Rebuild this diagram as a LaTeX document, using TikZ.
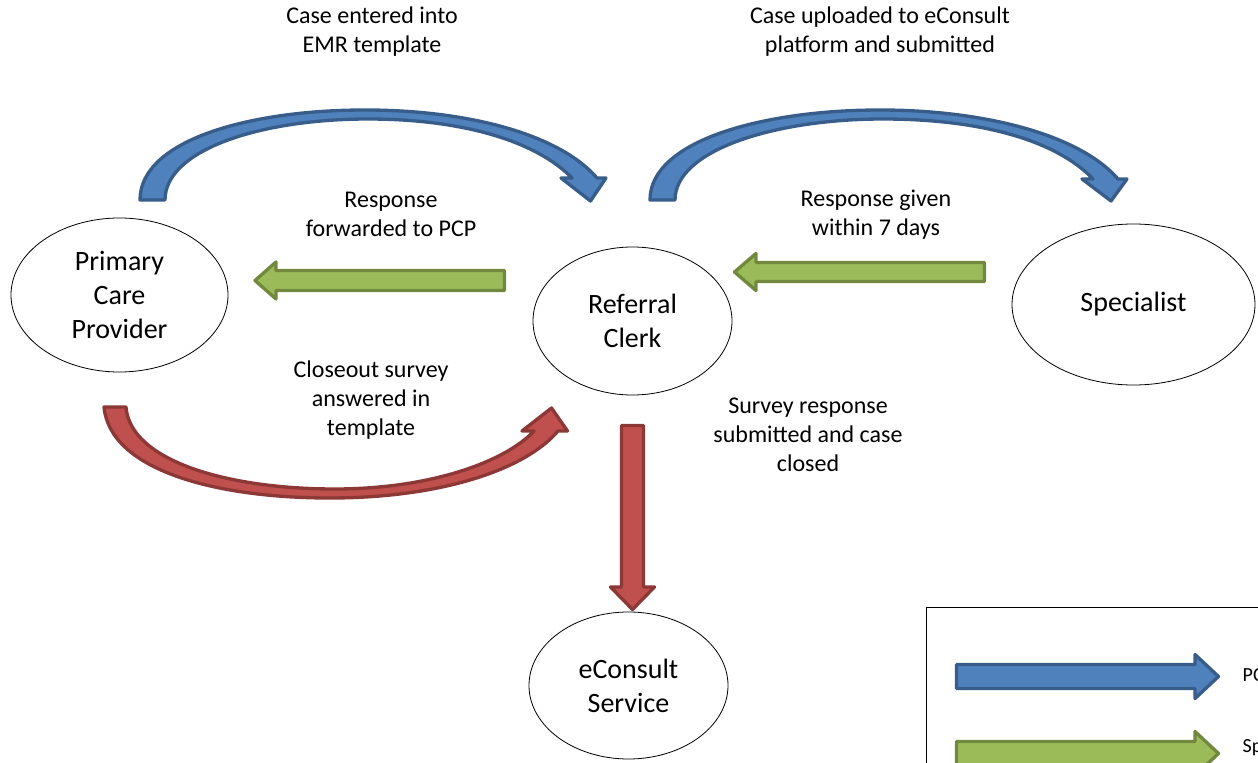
\documentclass[tikz,border=0pt]{standalone}
\usepackage{fontspec}
\setmainfont{Carlito}
\usetikzlibrary{shapes.geometric}
\definecolor{bluefill}{RGB}{79,129,189}
\definecolor{blueline}{RGB}{56,93,138}
\definecolor{greenfill}{RGB}{155,187,89}
\definecolor{greenline}{RGB}{113,137,63}
\definecolor{redfill}{RGB}{192,80,77}
\definecolor{redline}{RGB}{140,56,54}
\tikzstyle{actor} =[ellipse, draw=black, line width=0.6pt, inner sep=0pt, align=center, font=\fontsize{21}{25.5}\selectfont]
\tikzstyle{note} =[align=center, font=\fontsize{18}{21.75}\selectfont]
\tikzstyle{key} =[anchor=west, font=\fontsize{15}{18}\selectfont]
\tikzstyle{bluearrow} =[draw=blueline, fill=bluefill, line width=2.5pt, line join=round]
\tikzstyle{greenarrow} =[draw=greenline, fill=greenfill, line width=2.5pt, line join=round]
\tikzstyle{redarrow} =[draw=redline, fill=redfill, line width=2.5pt, line join=round]

\begin{document}
\begin{tikzpicture}[x=0.75pt, y=-0.75pt]
\useasboundingbox (0,0) rectangle (1258,763);
\node (pcp) [actor, minimum width=162.75pt, minimum height=115.5pt] at (119.5,295) {Primary\\Care\\Provider};
\node (clerk) [actor, minimum width=149.25pt, minimum height=111pt] at (632.5,321) {Referral\\Clerk};
\node (spec) [actor, minimum width=182.25pt, minimum height=120.75pt] at (1133.5,304.5) {Specialist};
\node (service) [actor, minimum width=149.25pt, minimum height=110.25pt] at (628.5,685.5) {eConsult\\Service};
\node (entered) [note] at (372,31.5) {Case entered into\\EMR template};
\node (uploaded) [note] at (880,31.5) {Case uploaded to eConsult\\platform and submitted};
\node (forwarded) [note] at (391,214.5) {Response\\forwarded to PCP};
\node (given) [note] at (876,214.5) {Response given\\within 7 days};
\node (closeout) [note] at (371,400) {Closeout survey\\answered in\\template};
\node (closed) [note] at (808,435) {Survey response\\submitted and case\\closed};
% curved block arrows
\draw [bluearrow] (140,200) .. controls (140,140) and (250,110) .. (365,110) .. controls (470,110) and (560,135) .. (597,178)
  -- (606,178) -- (590.5,201) -- (561,178) -- (572,178)
  .. controls (535,140) and (460,119) .. (368,119) .. controls (260,119) and (165,150) .. (165,200) -- cycle;
\draw [bluearrow] (650,200) .. controls (650,140) and (765,110) .. (880,110) .. controls (985,110) and (1080,135) .. (1118,179)
  -- (1127,179) -- (1111,201) -- (1082,179) -- (1093,179)
  .. controls (1056,140) and (980,119) .. (883,119) .. controls (775,119) and (675,150) .. (675,200) -- cycle;
\draw [redarrow] (104,407) .. controls (110,470) and (215,498) .. (330,498) .. controls (440,498) and (525,470) .. (558,431)
  -- (567.5,431) -- (551.5,408) -- (522,431) -- (534,431)
  .. controls (505,462) and (430,489) .. (335,489) .. controls (225,489) and (130,460) .. (126,407) -- cycle;
% straight block arrows
\draw [greenarrow] (504.5,270.5) -- (276,270.5) -- (276,262) -- (255,280.5) -- (276,299) -- (276,290.5) -- (504.5,290.5) -- cycle;
\draw [greenarrow] (984.5,262.5) -- (756,262.5) -- (756,253.5) -- (734.5,272) -- (756,290.5) -- (756,281.5) -- (984.5,281.5) -- cycle;
\draw [redarrow] (621.5,425.5) -- (643.5,425.5) -- (643.5,587) -- (654.5,587) -- (632.5,609.5) -- (610.5,587) -- (621.5,587) -- cycle;
% legend
\draw [line width=0.75pt] (926,607) rectangle (1300,800);
\draw [bluearrow] (956.5,664.5) -- (1195,664.5) -- (1195,654.5) -- (1218.5,676.5) -- (1195,698.5) -- (1195,688.5) -- (956.5,688.5) -- cycle;
\draw [greenarrow] (956.5,741.5) -- (1195,741.5) -- (1195,731.5) -- (1218.5,753.5) -- (1195,775.5) -- (1195,765.5) -- (956.5,765.5) -- cycle;
\node (keypcp) [key] at (1238,675) {PC};
\node (keyspec) [key] at (1238,748) {Sp};
\end{tikzpicture}
\end{document}
